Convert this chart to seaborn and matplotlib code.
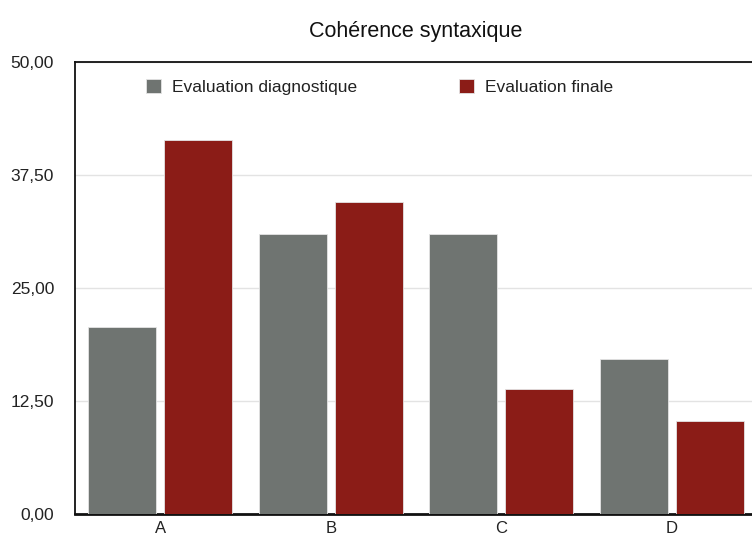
import matplotlib
matplotlib.use("Agg")
import matplotlib.pyplot as plt
import seaborn as sns
import pandas as pd
from matplotlib.patches import Patch

categories = ["A", "B", "C", "D"]
series_names = ["Evaluation diagnostique", "Evaluation finale"]
diagnostique = [20.7, 31.0, 31.0, 17.2]
finale = [41.4, 34.5, 13.8, 10.3]
y_ticks = [0, 12.5, 25, 37.5, 50]
title = "Cohérence syntaxique"
colors = ["#6f7471", "#8b1c17"]

df = pd.DataFrame({
    "cat": categories * 2,
    "serie": [series_names[0]] * 4 + [series_names[1]] * 4,
    "val": diagnostique + finale,
})

sns.set_style("white")
plt.rcParams["font.family"] = ["Liberation Sans", "DejaVu Sans"]

fig = plt.figure(figsize=(7.52, 5.38), dpi=100)
ax = fig.add_axes([75 / 752, 1 - 514 / 538, (757 - 75) / 752, (514 - 62) / 538])

sns.barplot(data=df, x="cat", y="val", hue="serie", palette=colors,
            saturation=1, width=0.89, gap=0.1, edgecolor="#e4e4e4",
            linewidth=0.6, ax=ax, legend=False, zorder=3)

ax.set_xlim(-0.5, 3.5)
ax.set_ylim(0, 50)
ax.set_yticks(y_ticks)
ax.set_yticklabels([f"{v:.2f}".replace(".", ",") for v in y_ticks])
ax.set_xlabel("")
ax.set_ylabel("")
ax.yaxis.grid(True, color="#e3e3e3", linewidth=1, zorder=0)
ax.set_axisbelow(True)
ax.tick_params(axis="y", length=0, pad=15, labelsize=12.5, colors="#222222")
ax.tick_params(axis="x", length=0, pad=5, labelsize=12, colors="#222222")
for s in ["left", "top", "right"]:
    ax.spines[s].set_color("#111111")
    ax.spines[s].set_linewidth(1.3)
ax.spines["bottom"].set_color("#111111")
ax.spines["bottom"].set_linewidth(2)

ax.set_title(title, fontsize=15.5, pad=18, color="#111111")

handles = [Patch(facecolor=c, edgecolor="#e4e4e4", linewidth=0.6) for c in colors]
common = dict(loc="center left", frameon=False, fontsize=12.5,
              handlelength=0.85, handleheight=0.85, handletextpad=0.65,
              borderpad=0, borderaxespad=0)
leg1 = fig.legend([handles[0]], [series_names[0]],
                  bbox_to_anchor=(146 / 752, 1 - 87 / 538), **common)
leg2 = fig.legend([handles[1]], [series_names[1]],
                  bbox_to_anchor=(459 / 752, 1 - 87 / 538), **common)
for leg in (leg1, leg2):
    for t in leg.get_texts():
        t.set_color("#222222")

fig.savefig("out.png", dpi=100)
